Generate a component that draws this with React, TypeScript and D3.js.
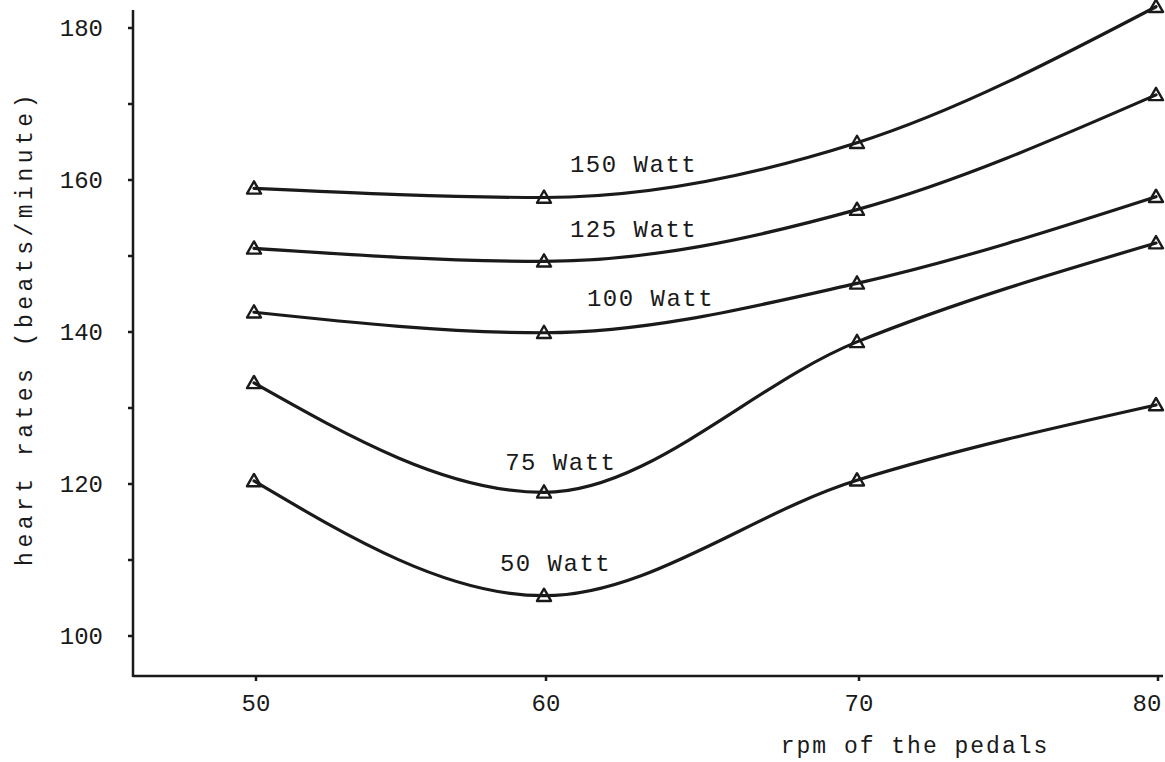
import React from 'react';
import * as d3 from 'd3';

const rpm = [50, 60, 70, 80];
const seriesNames = ['150 Watt', '125 Watt', '100 Watt', '75 Watt', '50 Watt'];
const hr150 = [158.9, 157.7, 164.9, 182.8];
const hr125 = [151.0, 149.3, 156.1, 171.2];
const hr100 = [142.6, 139.9, 146.4, 157.8];
const hr75 = [133.3, 118.9, 138.7, 151.7];
const hr50 = [120.4, 105.3, 120.5, 130.4];
const yTickLabels = [100, 120, 140, 160, 180];
const yMinorTicks = [110, 130, 150, 170];
const xTickLabels = [50, 60, 70, 80];
// label anchor positions in data units (rpm, beats/minute)
const labelRpm = [60.83, 60.83, 61.37, 58.66, 58.48];
const labelHr = [161.1, 152.5, 143.4, 121.8, 108.55];

const W = 1165;
const H = 762;
const FONT = '"Liberation Mono", "DejaVu Sans Mono", monospace';
const INK = '#1a1a1a';

export default function App() {
  const x = d3.scaleLinear().domain([50, 60, 70, 80]).range([254, 544, 857, 1156]);
  const y = d3.scaleLinear().domain([100, 180]).range([636, 28]);
  const axisY = 676;
  const axisX = 133;

  const allSeries = [hr150, hr125, hr100, hr75, hr50];
  const line = d3
    .line<number>()
    .x((_, i) => x(rpm[i]))
    .y((d) => y(d))
    .curve(d3.curveMonotoneX);

  const tri = (cx: number, cy: number) => {
    const s = 7;
    return `M${cx},${cy - s} L${cx + s},${cy + s * 0.75} L${cx - s},${cy + s * 0.75} Z`;
  };

  return (
    <svg
      width={W}
      height={H}
      viewBox={`0 0 ${W} ${H}`}
      style={{ position: 'absolute', left: 0, top: 0, background: '#fff' }}
    >
      <rect x={0} y={0} width={W} height={H} fill="#fff" />
      {/* axes */}
      <line x1={axisX} y1={10} x2={axisX} y2={axisY + 1} stroke={INK} strokeWidth={2.5} />
      <line x1={axisX} y1={axisY} x2={1163} y2={axisY} stroke={INK} strokeWidth={2.5} />
      {yTickLabels.concat(yMinorTicks).map((t) => (
        <line key={'yt' + t} x1={axisX - 5} x2={axisX} y1={y(t)} y2={y(t)} stroke={INK} strokeWidth={2.5} />
      ))}
      {yTickLabels.map((t) => (
        <text
          key={'yl' + t}
          x={axisX - 30}
          y={y(t)}
          dy="0.35em"
          textAnchor="end"
          fontFamily={FONT}
          fontSize={24}
          fill={INK}
        >
          {t}
        </text>
      ))}
      {xTickLabels.map((t) => (
        <g key={'xt' + t}>
          <line x1={x(t) + 2} x2={x(t) + 2} y1={axisY} y2={axisY + 5} stroke={INK} strokeWidth={2.5} />
          <text
            x={Math.min(x(t) + 2, W - 18)}
            y={711}
            textAnchor="middle"
            fontFamily={FONT}
            fontSize={24}
            fill={INK}
          >
            {t}
          </text>
        </g>
      ))}
      <text
        x={915}
        y={753}
        textAnchor="middle"
        fontFamily={FONT}
        fontSize={23}
        letterSpacing={2}
        fill={INK}
      >
        rpm of the pedals
      </text>
      <text
        transform={`translate(32, 328) rotate(-90)`}
        textAnchor="middle"
        fontFamily={FONT}
        fontSize={23}
        letterSpacing={4.5}
        fill={INK}
      >
        heart rates (beats/minute)
      </text>
      {/* series */}
      {allSeries.map((s, k) => (
        <g key={'s' + k}>
          <path d={line(s) || ''} fill="none" stroke={INK} strokeWidth={3.2} strokeLinecap="round" />
          {s.map((v, i) => (
            <path key={i} d={tri(x(rpm[i]), y(v))} fill="none" stroke={INK} strokeWidth={2.4} strokeLinejoin="round" />
          ))}
        </g>
      ))}
      {seriesNames.map((n, k) => (
        <text
          key={'lbl' + k}
          x={x(labelRpm[k])}
          y={y(labelHr[k])}
          fontFamily={FONT}
          fontSize={24}
          letterSpacing={1.5}
          fill={INK}
        >
          {n}
        </text>
      ))}
    </svg>
  );
}
